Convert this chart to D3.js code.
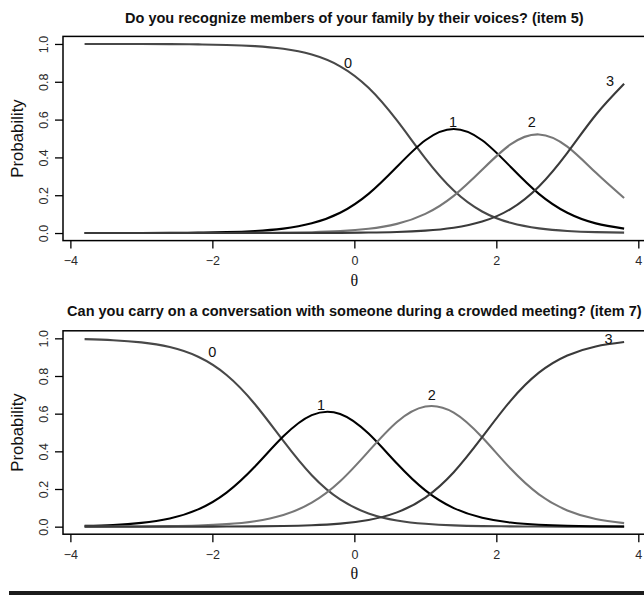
<!DOCTYPE html>
<html>
<head>
<meta charset="utf-8">
<script src="https://cdn.jsdelivr.net/npm/d3@7"></script>
<style>
  html, body { margin: 0; padding: 0; background: #ffffff; }
  svg { display: block; }
</style>
</head>
<body>
<svg id="chart" width="644" height="595"></svg>
<script>
// ---- data ----
const theta = [-3.8, -3.4, -3.0, -2.6, -2.2, -1.8, -1.4, -1.0, -0.6, -0.2,
                0.2,  0.6,  1.0,  1.4,  1.8,  2.2,  2.6,  3.0,  3.4,  3.8];

const item5Title = "Do you recognize members of your family by their voices? (item 5)";
const item5Cat0 = [1.0000, 0.9998, 0.9995, 0.9990, 0.9977, 0.9948, 0.9884, 0.9743, 0.9439, 0.8818,
                   0.7681, 0.5953, 0.3950, 0.2248, 0.1141, 0.0541, 0.0247, 0.0111, 0.0050, 0.0022];
const item5Cat1 = [0.0001, 0.0002, 0.0004, 0.0009, 0.0021, 0.0047, 0.0106, 0.0235, 0.0512, 0.1071,
                   0.2071, 0.3506, 0.4909, 0.5504, 0.4909, 0.3506, 0.2072, 0.1071, 0.0511, 0.0235];
const item5Cat2 = [0.0000, 0.0000, 0.0000, 0.0001, 0.0002, 0.0004, 0.0009, 0.0020, 0.0045, 0.0100,
                   0.0223, 0.0485, 0.1015, 0.1969, 0.3344, 0.4684, 0.5215, 0.4573, 0.3197, 0.1852];
const item5Cat3 = [0.0000, 0.0000, 0.0000, 0.0000, 0.0000, 0.0000, 0.0001, 0.0002, 0.0005, 0.0011,
                   0.0025, 0.0056, 0.0126, 0.0279, 0.0606, 0.1269, 0.2466, 0.4245, 0.6242, 0.7891];

const item7Title = "Can you carry on a conversation with someone during a crowded meeting? (item 7)";
const item7Cat0 = [0.9956, 0.9902, 0.9785, 0.9535, 0.9020, 0.8053, 0.6502, 0.4551, 0.2729, 0.1443,
                   0.0704, 0.0329, 0.0151, 0.0068, 0.0031, 0.0014, 0.0006, 0.0003, 0.0001, 0.0001];
const item7Cat1 = [0.0042, 0.0092, 0.0202, 0.0437, 0.0917, 0.1808, 0.3193, 0.4795, 0.5924, 0.5984,
                   0.4942, 0.3353, 0.1924, 0.0985, 0.0471, 0.0218, 0.0100, 0.0045, 0.0020, 0.0009];
const item7Cat2 = [0.0002, 0.0005, 0.0012, 0.0027, 0.0060, 0.0133, 0.0290, 0.0620, 0.1273, 0.2410,
                   0.3998, 0.5559, 0.6380, 0.6056, 0.4748, 0.3086, 0.1718, 0.0863, 0.0410, 0.0188];
const item7Cat3 = [0.0000, 0.0000, 0.0001, 0.0001, 0.0003, 0.0007, 0.0015, 0.0033, 0.0074, 0.0163,
                   0.0356, 0.0759, 0.1545, 0.2891, 0.4750, 0.6682, 0.8176, 0.9089, 0.9569, 0.9802];

const categoryLabels = ["0", "1", "2", "3"];
const item5LabelTheta = [-0.09, 1.39, 2.50, 3.60];
const item5LabelProb  = [0.898, 0.589, 0.586, 0.806];
const item7LabelTheta = [-2.00, -0.47, 1.09, 3.58];
const item7LabelProb  = [0.929, 0.646, 0.699, 0.995];

const xTicks = [-4, -2, 0, 2, 4];
const yTicks = [0, 0.2, 0.4, 0.6, 0.8, 1.0];

// ---- styling / layout ----
const curveColors = ["#484848", "#000000", "#777777", "#3a3a3a"];
const sansFont = "'Liberation Sans', Arial, sans-serif";
const svg = d3.select("#chart");
const plotLeft = 63, plotRight = 645.7;
const xDomain = [-4.104, 4.104];

const panels = [
  { title: item5Title, series: [item5Cat0, item5Cat1, item5Cat2, item5Cat3],
    lt: item5LabelTheta, lp: item5LabelProb, top: 36.4, bottom: 240.6, titleY: 22.5 },
  { title: item7Title, series: [item7Cat0, item7Cat1, item7Cat2, item7Cat3],
    lt: item7LabelTheta, lp: item7LabelProb, top: 330.8, bottom: 534.2, titleY: 315.5 }
];

const fmt = d => (d < 0 ? "\u2212" + Math.abs(d) : String(d));

panels.forEach(p => {
  const x = d3.scaleLinear().domain(xDomain).range([plotLeft, plotRight]);
  const y = d3.scaleLinear().domain([-0.04, 1.04]).range([p.bottom, p.top]);
  const g = svg.append("g");

  // title
  g.append("text")
    .attr("x", (plotLeft + plotRight) / 2)
    .attr("y", p.titleY)
    .attr("text-anchor", "middle")
    .style("font-family", sansFont)
    .style("font-weight", "bold")
    .style("font-size", "14.5px")
    .attr("fill", "#111")
    .text(p.title);

  // curves
  const line = d3.line()
    .x((d, i) => x(theta[i]))
    .y(d => y(d))
    .curve(d3.curveNatural);
  p.series.forEach((s, k) => {
    g.append("path")
      .datum(s)
      .attr("d", line)
      .attr("fill", "none")
      .attr("stroke", curveColors[k])
      .attr("stroke-width", 2.1)
      .attr("stroke-linejoin", "round");
  });

  // curve labels
  categoryLabels.forEach((lab, k) => {
    g.append("text")
      .attr("x", x(p.lt[k]))
      .attr("y", y(p.lp[k]))
      .attr("dy", "0.36em")
      .attr("text-anchor", "middle")
      .style("font-family", sansFont)
      .style("font-size", "14.5px")
      .attr("fill", "#111")
      .text(lab);
  });

  // box (left, top, bottom; right side falls just outside the window)
  g.append("rect")
    .attr("x", plotLeft)
    .attr("y", p.top)
    .attr("width", plotRight - plotLeft)
    .attr("height", p.bottom - p.top)
    .attr("fill", "none")
    .attr("stroke", "#000")
    .attr("stroke-width", 1.5);

  // x axis
  const xa = g.append("g")
    .attr("transform", `translate(0,${p.bottom})`)
    .call(d3.axisBottom(x).tickValues(xTicks).tickSize(8).tickPadding(8).tickFormat(fmt));
  xa.attr("font-size", null).attr("font-family", null);
  xa.select(".domain").remove();
  xa.selectAll(".tick line").attr("stroke", "#000").attr("stroke-width", 1.3);
  xa.selectAll(".tick text")
    .style("font-family", sansFont)
    .style("font-size", "12.5px")
    .attr("fill", "#2a2a2a");

  // y axis
  const ya = g.append("g")
    .attr("transform", `translate(${plotLeft},0)`)
    .call(d3.axisLeft(y).tickValues(yTicks).tickSize(8).tickFormat(d3.format(".1f")));
  ya.attr("font-size", null).attr("font-family", null);
  ya.select(".domain").remove();
  ya.selectAll(".tick line").attr("stroke", "#000").attr("stroke-width", 1.3);
  ya.selectAll(".tick text")
    .attr("transform", "rotate(-90)")
    .attr("x", 0)
    .attr("y", -15)
    .attr("dy", 0)
    .attr("text-anchor", "middle")
    .style("font-family", sansFont)
    .style("font-size", "12.5px")
    .attr("fill", "#2a2a2a");

  // axis titles
  g.append("text")
    .attr("transform", `translate(23,${(p.top + p.bottom) / 2}) rotate(-90)`)
    .attr("text-anchor", "middle")
    .style("font-family", sansFont)
    .style("font-size", "16.8px")
    .attr("fill", "#111")
    .text("Probability");

  g.append("text")
    .attr("x", x(0))
    .attr("y", p.bottom + 45)
    .attr("text-anchor", "middle")
    .style("font-family", "'Liberation Serif', 'Times New Roman', serif")
    .style("font-size", "16px")
    .attr("fill", "#111")
    .text("\u03b8");
});

// dark strip along the bottom edge
svg.append("rect")
  .attr("x", 9).attr("y", 591)
  .attr("width", 635).attr("height", 4)
  .attr("fill", "#1c1c1c");
</script>
</body>
</html>
